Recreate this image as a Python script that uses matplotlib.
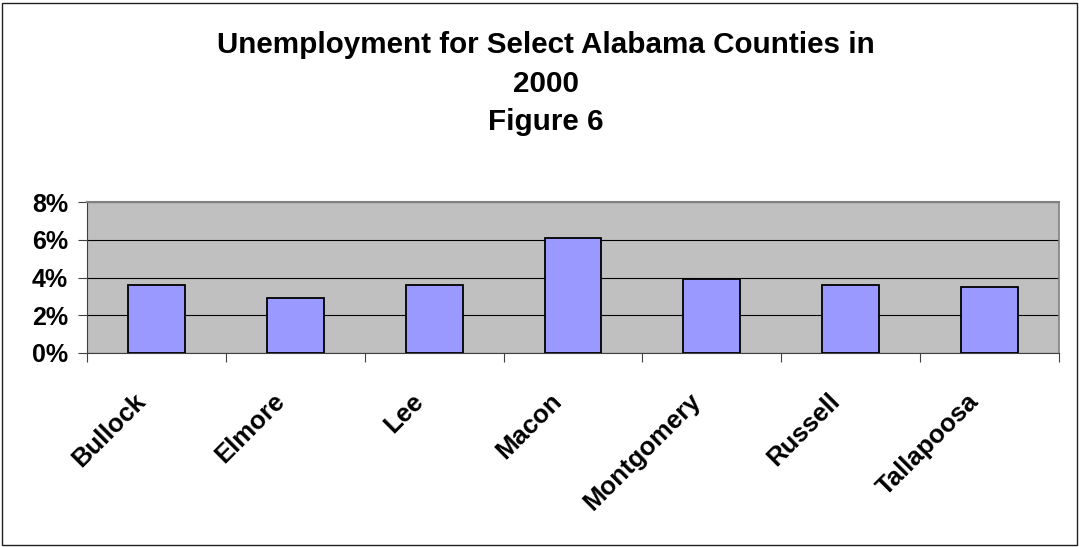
import matplotlib.pyplot as plt
import matplotlib.ticker as tkr
from matplotlib.patches import Rectangle
from matplotlib.transforms import ScaledTranslation

plt.rcParams["font.family"] = ["Liberation Sans", "DejaVu Sans"]
plt.rcParams["font.weight"] = "bold"

counties = ["Bullock", "Elmore", "Lee", "Macon", "Montgomery", "Russell", "Tallapoosa"]
unemployment = [3.6, 2.9, 3.6, 6.1, 3.9, 3.6, 3.5]  # percent
y_ticks = [0, 2, 4, 6, 8]

W, H = 1079, 547
fig = plt.figure(figsize=(W / 100, H / 100), dpi=100)
ax = fig.add_axes([87 / W, 1 - 353 / H, (1059 - 87) / W, (353 - 202) / H])
ax.set_facecolor("#C0C0C0")

x = list(range(len(counties)))
ax.bar(x, unemployment, width=0.41, color="#9999FF", edgecolor="black", linewidth=1.3, zorder=3)

ax.set_xlim(-0.5, len(counties) - 0.5)
ax.set_ylim(0, 8)
ax.set_yticks(y_ticks)
ax.yaxis.set_major_formatter(tkr.FuncFormatter(lambda v, pos: "{:d}%".format(int(v))))
ax.grid(axis="y", color="black", linewidth=0.8, zorder=1)

# tick marks at category boundaries, labels drawn separately
ax.set_xticks([i - 0.5 for i in range(len(counties) + 1)])
ax.set_xticklabels([])
ax.tick_params(axis="x", length=6.5, width=0.8, color="#404040")
ax.tick_params(axis="y", length=6.5, width=0.8, color="#404040", pad=7, labelsize=18)
for lbl in ax.get_yticklabels():
    lbl.set_fontweight("bold")

shift = ax.get_xaxis_transform() + ScaledTranslation(-23 / 100, -36 / 100, fig.dpi_scale_trans)
for xi, name in zip(x, counties):
    ax.text(xi, 0, name, transform=shift, fontsize=18.5, fontweight="bold", rotation=45,
            ha="right", va="top", rotation_mode="anchor")

ax.spines["top"].set_color("#808080")
ax.spines["top"].set_linewidth(1.5)
ax.spines["right"].set_color("#808080")
ax.spines["right"].set_linewidth(1.2)
ax.spines["left"].set_color("#404040")
ax.spines["bottom"].set_color("#404040")

# title, three centred lines
title_lines = ["Unemployment for Select Alabama Counties in", "2000", "Figure 6"]
baselines = [53, 92, 130]
for line, yb in zip(title_lines, baselines):
    fig.text(546 / W, 1 - yb / H, line, ha="center", va="baseline",
             fontsize=21.3, fontweight="bold")

# outer chart border
fig.patches.append(Rectangle((2 / W, 2 / H), 1075 / W, 542 / H, transform=fig.transFigure,
                             fill=False, edgecolor="#202020", linewidth=1.0))

fig.savefig("out.png", dpi=100)
